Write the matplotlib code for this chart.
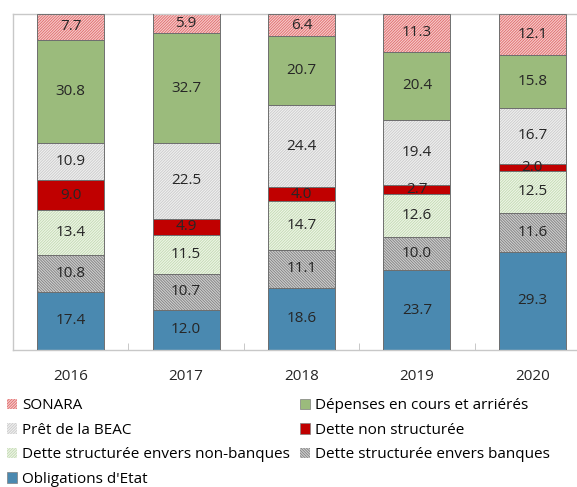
import numpy as np
import matplotlib
matplotlib.use("Agg")
import matplotlib.pyplot as plt
from matplotlib.patches import Patch

plt.rcParams['font.family'] = ['Open Sans', 'DejaVu Sans']
plt.rcParams['hatch.linewidth'] = 0.6

years = ["2016", "2017", "2018", "2019", "2020"]

# stacked bottom to top
series_names = [
    "Obligations d'Etat",
    "Dette structurée envers banques",
    "Dette structurée envers non-banques",
    "Dette non structurée",
    "Prêt de la BEAC",
    "Dépenses en cours et arriérés",
    "SONARA",
]
obligations = [17.4, 12.0, 18.6, 23.7, 29.3]
banques = [10.8, 10.7, 11.1, 10.0, 11.6]
non_banques = [13.4, 11.5, 14.7, 12.6, 12.5]
non_structuree = [9.0, 4.9, 4.0, 2.7, 2.0]
beac = [10.9, 22.5, 24.4, 19.4, 16.7]
depenses = [30.8, 32.7, 20.7, 20.4, 15.8]
sonara = [7.7, 5.9, 6.4, 11.3, 12.1]
series_values = [obligations, banques, non_banques, non_structuree, beac, depenses, sonara]

# (face colour, hatch colour, hatch)
styles = [
    ("#4a89b0", None, None),
    ("#cfcfcf", "#808080", "\\" * 12),
    ("#eef5e7", "#c2dab2", "/" * 12),
    ("#c00000", None, None),
    ("#f0f0f0", "#cacaca", "/" * 12),
    ("#9bbb7c", None, None),
    ("#f6cccc", "#e06a6a", "/" * 12),
]

fig = plt.figure(figsize=(5.77, 4.87), dpi=100)
ax = fig.add_axes([13 / 577, 137 / 487, 577 / 577, 336 / 487])

x = np.arange(len(years))
width = 0.58
bottom = np.zeros(len(years))
handles = []
for name, vals, (fc, hc, hatch) in zip(series_names, series_values, styles):
    vals = np.array(vals)
    if hatch:
        ax.bar(x, vals, width, bottom=bottom, color=fc, edgecolor=hc,
               hatch=hatch, linewidth=0, zorder=2)
        h = Patch(facecolor=fc, edgecolor=hc, hatch=hatch, linewidth=0)
    else:
        ax.bar(x, vals, width, bottom=bottom, color=fc, linewidth=0, zorder=2)
        h = Patch(facecolor=fc, edgecolor="#7f7f7f", linewidth=0.5)
    ax.bar(x, vals, width, bottom=bottom, facecolor="none",
           edgecolor="#6f6f6f", linewidth=0.7, zorder=3)
    for xi, b, v in zip(x, bottom, vals):
        ax.text(xi, b + v / 2, f"{v:.1f}", ha="center", va="center",
                fontsize=11, color="#262626", zorder=4)
    bottom = bottom + vals
    handles.append(h)

ax.set_xlim(-0.5, 4.5)
ax.set_ylim(0, 100)
ax.set_yticks([])
ax.set_xticks(x)
ax.set_xticklabels(years, fontsize=11, color="#262626")
ax.set_xticks(x[:-1] + 0.5, minor=True)
ax.tick_params(axis="x", which="major", length=0, pad=14)
ax.tick_params(axis="x", which="minor", length=5, direction="in", color="#bfbfbf")
for s in ["left", "top", "bottom"]:
    ax.spines[s].set_color("#c8c8c8")
    ax.spines[s].set_linewidth(1.0)
ax.spines["right"].set_visible(False)

# legend laid out row by row like the original: reorder for column-major fill
order = [6, 4, 2, 0, 5, 3, 1]
fig.legend([handles[i] for i in order], [series_names[i] for i in order],
           loc="upper left", bbox_to_anchor=(0.012, 0.182), ncol=2,
           frameon=False, fontsize=11, handlelength=0.65, handleheight=0.65,
           handletextpad=0.35, columnspacing=0.65, labelspacing=0.62,
           borderpad=0, borderaxespad=0)

fig.savefig("out.png", dpi=100)
